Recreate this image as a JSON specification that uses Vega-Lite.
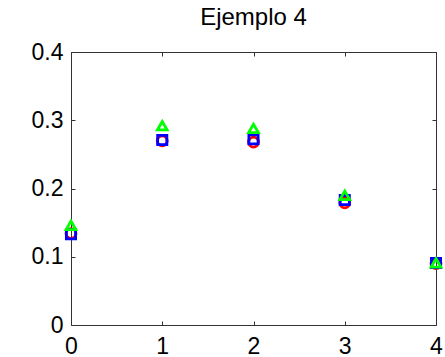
{
  "$schema": "https://vega.github.io/schema/vega-lite/v6.json",
  "autosize": "none",
  "width": 365,
  "height": 273,
  "padding": {"left": 71, "top": 52, "right": 9, "bottom": 32},
  "background": "white",
  "title": {"text": "Ejemplo 4", "font": "Liberation Sans", "fontSize": 24, "fontWeight": "normal", "color": "black", "anchor": "middle", "offset": 11},
  "config": {
    "view": {"stroke": "#333333", "strokeWidth": 1},
    "axis": {"labelFont": "Liberation Sans", "labelFontSize": 23, "labelColor": "black", "domain": false, "grid": false, "tickColor": "#333333", "tickWidth": 1, "title": null}
  },
  "data": {"values": [
    {"series": "rojo", "x": 0, "y": 0.134},
    {"series": "rojo", "x": 1, "y": 0.270},
    {"series": "rojo", "x": 2, "y": 0.268},
    {"series": "rojo", "x": 3, "y": 0.179},
    {"series": "rojo", "x": 4, "y": 0.090},
    {"series": "azul", "x": 0, "y": 0.133},
    {"series": "azul", "x": 1, "y": 0.271},
    {"series": "azul", "x": 2, "y": 0.272},
    {"series": "azul", "x": 3, "y": 0.183},
    {"series": "azul", "x": 4, "y": 0.091},
    {"series": "verde", "x": 0, "y": 0.146},
    {"series": "verde", "x": 1, "y": 0.292},
    {"series": "verde", "x": 2, "y": 0.288},
    {"series": "verde", "x": 3, "y": 0.190},
    {"series": "verde", "x": 4, "y": 0.091}
  ]},
  "resolve": {"axis": {"x": "independent", "y": "independent"}},
  "layer": [
    {"transform": [{"filter": "datum.series === 'rojo'"}],
     "mark": {"type": "point", "shape": "circle", "filled": false, "stroke": "#ff0000", "strokeWidth": 2.8, "size": 100, "opacity": 1},
     "encoding": {
       "x": {"field": "x", "type": "quantitative", "scale": {"domain": [0, 4], "nice": false, "zero": false},
         "axis": {"orient": "bottom", "values": [0, 1, 2, 3, 4], "tickSize": -4, "labelPadding": 14, "labelFlush": false}},
       "y": {"field": "y", "type": "quantitative", "scale": {"domain": [0, 0.4], "nice": false},
         "axis": {"orient": "left", "values": [0, 0.1, 0.2, 0.3, 0.4], "tickSize": -4, "labelPadding": 12, "format": "~g"}}
     }},
    {"transform": [{"filter": "datum.series === 'azul'"}],
     "mark": {"type": "point", "shape": "square", "filled": false, "stroke": "#0000ff", "strokeWidth": 2.8, "size": 85, "opacity": 1},
     "encoding": {
       "x": {"field": "x", "type": "quantitative", "axis": {"orient": "top", "values": [0, 1, 2, 3, 4], "tickSize": -4, "labels": false}},
       "y": {"field": "y", "type": "quantitative", "axis": {"orient": "right", "values": [0, 0.1, 0.2, 0.3, 0.4], "tickSize": -4, "labels": false}}
     }},
    {"transform": [{"filter": "datum.series === 'verde'"}],
     "mark": {"type": "point", "shape": "triangle-up", "filled": false, "stroke": "#00ff00", "strokeWidth": 2.8, "size": 95, "opacity": 1},
     "encoding": {
       "x": {"field": "x", "type": "quantitative", "axis": null},
       "y": {"field": "y", "type": "quantitative", "axis": null}
     }}
  ]
}
